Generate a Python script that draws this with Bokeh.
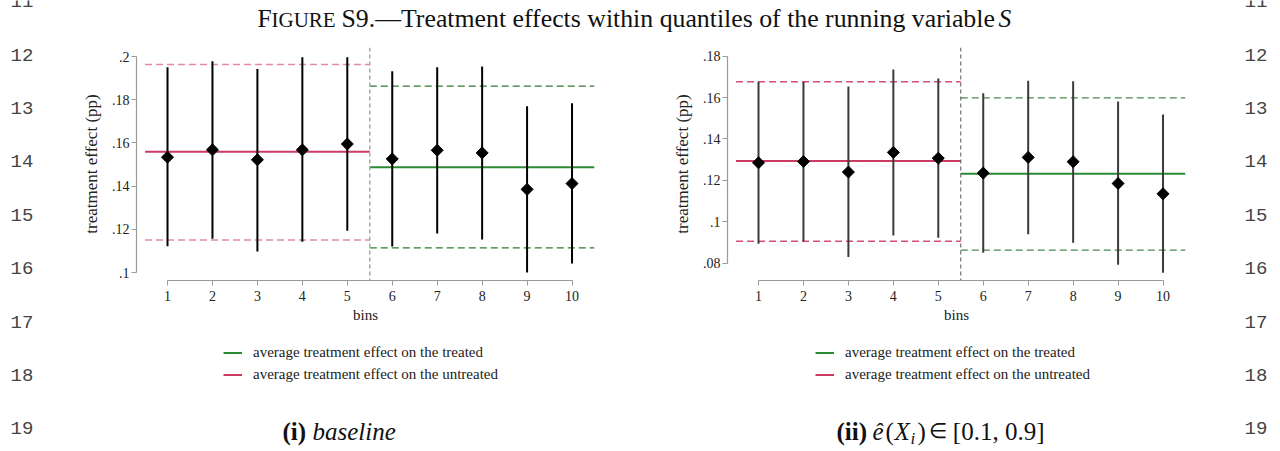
from bokeh.plotting import figure
from bokeh.models import Range1d, FixedTicker, Span, Legend, LegendItem
from bokeh.layouts import row, column
from bokeh.embed import file_html
from bokeh.resources import INLINE
from bokeh.core.properties import value
import numpy as np
import math

# ---------------- data ----------------
bins = [1, 2, 3, 4, 5, 6, 7, 8, 9, 10]
untreated_bins = [1, 2, 3, 4, 5]
treated_bins = [6, 7, 8, 9, 10]

# panel (i) baseline
est_i = [0.1534, 0.1568, 0.1522, 0.1568, 0.1595, 0.1526, 0.1566, 0.1554, 0.1385, 0.1412]
lo_i = [0.1122, 0.1156, 0.1097, 0.1142, 0.1193, 0.1121, 0.1181, 0.1153, 0.1000, 0.1042]
hi_i = [0.1950, 0.1978, 0.1942, 0.1997, 0.1997, 0.1932, 0.1950, 0.1954, 0.1770, 0.1784]
atu_i = [0.1559, 0.1151, 0.1963]   # estimate, lower, upper
att_i = [0.1488, 0.1114, 0.1863]
yticks_i = [0.10, 0.12, 0.14, 0.16, 0.18, 0.20]
ylabels_i = [".1", ".12", ".14", ".16", ".18", ".2"]

# panel (ii) e(X) in [0.1, 0.9]
est_ii = [0.1285, 0.1291, 0.1240, 0.1335, 0.1307, 0.1235, 0.1311, 0.1290, 0.1185, 0.1135]
lo_ii = [0.0894, 0.0905, 0.0829, 0.0934, 0.0923, 0.0850, 0.0939, 0.0899, 0.0792, 0.0754]
hi_ii = [0.1676, 0.1676, 0.1654, 0.1736, 0.1692, 0.1621, 0.1681, 0.1679, 0.1581, 0.1518]
atu_ii = [0.1293, 0.0906, 0.1676]
att_ii = [0.1232, 0.0863, 0.1599]
yticks_ii = [0.08, 0.10, 0.12, 0.14, 0.16, 0.18]
ylabels_ii = [".08", ".1", ".12", ".14", ".16", ".18"]

xtick_labels = [str(b) for b in bins]
legend_labels = ["average treatment effect on the treated",
                 "average treatment effect on the untreated"]
line_numbers = ["11", "12", "13", "14", "15", "16", "17", "18", "19"]

SERIF = "Liberation Serif"
MONO = "Liberation Mono"
GREEN = "#2f8a35"
RED = "#cc3a62"
STYLE_I = dict(vline="#a8a8a8", vline_w=1.5, red_dash="#e38a9f",
               green_dash="#2f7a2f", bar="#000000")
STYLE_II = dict(vline="#555555", vline_w=1.0, red_dash="#d64d72",
                green_dash="#4a8a4a", bar="#3a3a3a")


def panel(width, est, lo, hi, atu, att, yrange, yticks, ylabels, st):
    p = figure(width=width, height=286,
               x_range=Range1d(0.31, 10.5), y_range=Range1d(*yrange),
               output_backend="svg", toolbar_location=None,
               min_border_left=76, min_border_right=width - 76 - 458,
               min_border_top=3, min_border_bottom=50)
    p.xgrid.visible = False
    p.ygrid.visible = False
    p.outline_line_color = None
    p.background_fill_color = "white"
    p.border_fill_color = "white"

    p.xaxis.ticker = FixedTicker(ticks=bins)
    p.xaxis.major_label_overrides = {b: l for b, l in zip(bins, xtick_labels)}
    p.xaxis.bounds = (bins[0], bins[-1])
    p.yaxis.ticker = FixedTicker(ticks=yticks)
    p.yaxis.major_label_overrides = {t: l for t, l in zip(yticks, ylabels)}
    p.yaxis.bounds = (yticks[0], yticks[-1])
    for ax in (p.xaxis, p.yaxis):
        ax.axis_line_color = "#9a9a9a"
        ax.axis_line_width = 1.2
        ax.major_tick_line_color = "#9a9a9a"
        ax.major_tick_in = 0
        ax.major_tick_out = 5
        ax.minor_tick_line_color = None
        ax.major_label_text_font = SERIF
        ax.major_label_text_font_size = "14px"
        ax.major_label_text_color = "#222222"
        ax.axis_label_text_font = SERIF
        ax.axis_label_text_font_style = "normal"
        ax.axis_label_text_color = "#222222"
    p.xaxis.major_label_standoff = 5
    p.yaxis.major_label_standoff = 2
    p.xaxis.axis_label = "bins"
    p.xaxis.axis_label_text_font_size = "15px"
    p.xaxis.axis_label_standoff = 3
    p.yaxis.axis_label = "treatment effect (pp)"
    p.yaxis.axis_label_text_font_size = "17px"
    p.yaxis.axis_label_standoff = 8

    u0, u1 = min(untreated_bins) - 0.5, max(untreated_bins) + 0.5
    t0, t1 = min(treated_bins) - 0.5, max(treated_bins) + 0.5
    cut = (max(untreated_bins) + min(treated_bins)) / 2

    p.add_layout(Span(location=cut, dimension="height", line_color=st["vline"],
                      line_width=st["vline_w"], line_dash="4 3"))

    p.segment(x0=[u0, u0], y0=[atu[1], atu[2]], x1=[u1, u1], y1=[atu[1], atu[2]],
              line_color=st["red_dash"], line_width=1.5, line_dash="7 4")
    p.segment(x0=[t0, t0], y0=[att[1], att[2]], x1=[t1, t1], y1=[att[1], att[2]],
              line_color=st["green_dash"], line_width=1.3, line_dash="7 4")
    p.segment(x0=[u0], y0=[atu[0]], x1=[u1], y1=[atu[0]], line_color=RED, line_width=2)
    p.segment(x0=[t0], y0=[att[0]], x1=[t1], y1=[att[0]], line_color=GREEN, line_width=2)

    p.segment(x0=bins, y0=lo, x1=bins, y1=hi, line_color=st["bar"], line_width=2)
    p.scatter(x=bins, y=est, marker="square", angle=math.pi / 4, size=8.5,
              fill_color="black", line_color="black")
    return p


def strip(width, height):
    f = figure(width=width, height=height, x_range=Range1d(0, width),
               y_range=Range1d(height, 0), output_backend="svg",
               toolbar_location=None, min_border=0,
               x_axis_type=None, y_axis_type=None)
    f.grid.visible = False
    f.outline_line_color = None
    return f


p1 = panel(591, est_i, lo_i, hi_i, atu_i, att_i, (0.0963, 0.2042), yticks_i, ylabels_i, STYLE_I)
p2 = panel(585, est_ii, lo_ii, hi_ii, atu_ii, att_ii, (0.0716, 0.1842), yticks_ii, ylabels_ii, STYLE_II)

tkw = dict(text_font=value(SERIF), text_baseline="middle", text_align="left",
           text_color="#111111")

# ---------- title ----------
title_fig = strip(1176, 44)
ty = 17.6
title_fig.text(x=[197], y=[ty], text=["F"], text_font_size="25.5px", **tkw)
title_fig.text(x=[211], y=[ty + 1.5], text=["IGURE"], text_font_size="21px", **tkw)
title_fig.text(x=[281], y=[ty],
               text=["S9.\u2014Treatment effects within quantiles of the running variable"],
               text_font_size="25.8px", **tkw)
title_fig.text(x=[938], y=[ty], text=["S"], text_font_size="25.5px",
               text_font_style="italic", **tkw)

# ---------- legends + captions ----------
low = strip(1176, 121)
nan2 = np.array([np.nan, np.nan])
for gx in (163, 755):
    r_g = low.line(x=nan2, y=nan2, line_color=GREEN, line_width=2)
    r_r = low.line(x=nan2, y=nan2, line_color=RED, line_width=2)
    low.add_layout(Legend(items=[LegendItem(label=legend_labels[0], renderers=[r_g]),
                                 LegendItem(label=legend_labels[1], renderers=[r_r])],
                          location=(gx, 68.5), padding=0, margin=0, spacing=5,
                          glyph_width=19, glyph_height=15, label_height=15,
                          label_standoff=11, border_line_color=None,
                          background_fill_alpha=0,
                          label_text_font=SERIF, label_text_font_size="15px",
                          label_text_color="#222222"))

cy = 100.5
low.text(x=[222], y=[cy], text=["(i)"], text_font_size="25px", text_font_style="bold", **tkw)
low.text(x=[252], y=[cy], text=["baseline"], text_font_size="25px", text_font_style="italic", **tkw)
low.text(x=[776], y=[cy], text=["(ii)"], text_font_size="25px", text_font_style="bold", **tkw)
low.text(x=[812], y=[cy], text=["\u00ea"], text_font_size="25px", text_font_style="italic", **tkw)
low.text(x=[825], y=[cy], text=["("], text_font_size="25px", **tkw)
low.text(x=[834], y=[cy], text=["X"], text_font_size="25px", text_font_style="italic", **tkw)
low.text(x=[850], y=[cy + 7], text=["i"], text_font_size="17px", text_font_style="italic", **tkw)
low.text(x=[857], y=[cy], text=[")"], text_font_size="25px", **tkw)
low.text(x=[868], y=[cy], text=["\u2208"], text_font_size="21px", **tkw)
low.text(x=[984], y=[cy], text=["[0.1, 0.9]"], text_font_size="25px",
         text_font=value(SERIF), text_baseline="middle", text_align="right",
         text_color="#111111")

# ---------- line numbers ----------
numL = strip(60, 451)
numR = strip(44, 451)
ny = [0.6 + 53.4 * i for i in range(len(line_numbers))]
nkw = dict(text_font=value(MONO), text_font_size="19px", text_baseline="middle",
           text_align="left", text_color="#444444")
numL.text(x=[10] * len(line_numbers), y=ny, text=line_numbers, **nkw)
numR.text(x=[8] * len(line_numbers), y=ny, text=line_numbers, **nkw)

layout = row(numL, column(title_fig, row(p1, p2, spacing=0), low, spacing=0), numR, spacing=0)

open("out.html", "w").write(file_html(layout, INLINE))
